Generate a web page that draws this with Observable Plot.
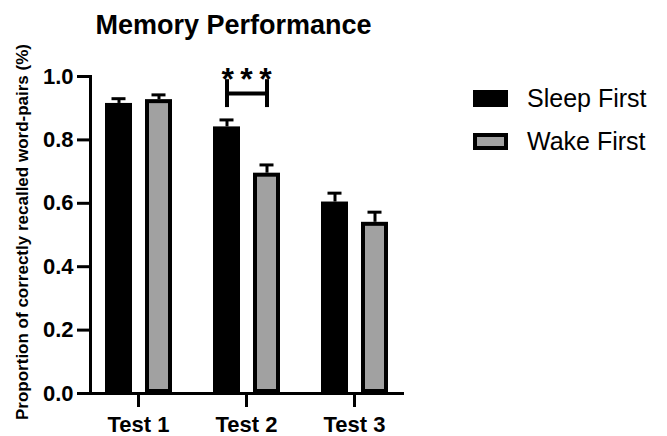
<!DOCTYPE html>
<html><head><meta charset="utf-8">
<script src="https://cdn.jsdelivr.net/npm/d3@7"></script>
<script src="https://cdn.jsdelivr.net/npm/@observablehq/plot@0.6"></script>
<style>
body{margin:0;background:#fff;}
#wrap{position:relative;width:667px;height:436px;font-family:Arial,"Liberation Sans",sans-serif;color:#000;overflow:hidden;}
#wrap svg{position:absolute;left:0;top:0;}
.title{position:absolute;top:12px;left:233.5px;transform:translateX(-50%);font-size:27px;font-weight:bold;line-height:1;white-space:nowrap;}
.ylab{position:absolute;left:22px;top:231.5px;transform:translate(-50%,-50%) rotate(-90deg);font-size:17px;font-weight:bold;line-height:1;white-space:nowrap;}
.leg{position:absolute;left:473px;display:flex;align-items:center;height:17px;}
.sw{width:35px;height:17px;box-sizing:border-box;}
.lt{margin-left:19px;font-size:25px;line-height:1;white-space:nowrap;}
</style></head><body><div id="wrap"></div>
<script>
const titleText = "Memory Performance";
const yLabel = "Proportion of correctly recalled word-pairs (%)";
const tests = ["Test 1", "Test 2", "Test 3"];
const conditions = ["Sleep First", "Wake First"];
const sleepMeans = [0.915, 0.841, 0.604];
const wakeMeans = [0.927, 0.695, 0.540];
const sleepErr = [0.015, 0.022, 0.028];
const wakeErr = [0.015, 0.026, 0.032];
const yTicks = [0, 0.2, 0.4, 0.6, 0.8, 1.0];
const colors = ["#000000", "#a1a1a1"];
// significance bracket
const sigTests = ["Test 2"];
const sigFrom = ["Sleep First"];
const sigTo = ["Wake First"];
const sigBar = [0.946];
const sigLow = [0.902];
const sigHigh = [0.99];
const sigText = ["*\u2009*\u2009*"];
const sigTextY = [0.99];

const rows = tests.flatMap((t, i) => [
  {test: t, condition: conditions[0], mean: sleepMeans[i], err: sleepErr[i]},
  {test: t, condition: conditions[1], mean: wakeMeans[i], err: wakeErr[i]}
]);
const sig = sigTests.map((t, i) => ({test: t, from: sigFrom[i], to: sigTo[i], y: sigBar[i], low: sigLow[i], high: sigHigh[i], label: sigText[i], ty: sigTextY[i]}));
const sigEnds = sig.flatMap(s => [{test: s.test, cond: s.from, low: s.low, high: s.high}, {test: s.test, cond: s.to, low: s.low, high: s.high}]);

const chart = Plot.plot({
  width: 667, height: 436,
  marginLeft: 90, marginRight: 262, marginTop: 76, marginBottom: 43,
  style: {fontFamily: 'Arial, "Liberation Sans", sans-serif', background: "transparent", overflow: "visible", color: "#000"},
  fx: {domain: tests, range: [90, 402], paddingInner: 1/9, paddingOuter: 0, label: null},
  x: {domain: conditions, range: [105, 172], paddingInner: 0.325, paddingOuter: 0, axis: null},
  y: {domain: [0, 1], label: null},
  color: {domain: conditions, range: colors},
  marks: [
    Plot.barY(rows, {fx: "test", x: "condition", y: "mean", fill: "condition", stroke: "#000", strokeWidth: 4, inset: 2}),
    Plot.ruleX(rows, {fx: "test", x: "condition", y1: "mean", y2: d => d.mean + d.err, stroke: "#000", strokeWidth: 3}),
    Plot.tickY(rows, {fx: "test", x: "condition", y: d => d.mean + d.err, stroke: "#000", strokeWidth: 3, insetLeft: 6.5, insetRight: 6.5}),
    Plot.link(sig, {fx: "test", x1: "from", x2: "to", y1: "y", y2: "y", stroke: "#000", strokeWidth: 4}),
    Plot.ruleX(sigEnds, {fx: "test", x: "cond", y1: "low", y2: "high", stroke: "#000", strokeWidth: 4}),
    Plot.text(sig, {fx: "test", y: "ty", text: "label", fontSize: 32, fontWeight: "bold", lineAnchor: "middle", fill: "#000"}),
    Plot.axisY({ticks: yTicks, tickFormat: d3.format(".1f"), tickSize: 13, tickPadding: 4, strokeWidth: 3, fontSize: 22, fontWeight: "bold", label: null}),
    Plot.axisFx({anchor: "bottom", tickSize: 14, tickPadding: 9, strokeWidth: 3, fontSize: 22, fontWeight: "bold", label: null}),
    Plot.frame({anchor: "left", facet: "super", strokeWidth: 3, stroke: "#000"}),
    Plot.frame({anchor: "bottom", facet: "super", strokeWidth: 3, stroke: "#000"})
  ]
});

const wrap = document.getElementById("wrap");
wrap.appendChild(chart);
const t = document.createElement("div"); t.className = "title"; t.textContent = titleText; wrap.appendChild(t);
const yl = document.createElement("div"); yl.className = "ylab"; yl.textContent = yLabel; wrap.appendChild(yl);
const legTops = [90, 133];
conditions.forEach((c, i) => {
  const row = document.createElement("div"); row.className = "leg"; row.style.top = legTops[i] + "px";
  const sw = document.createElement("div"); sw.className = "sw"; sw.style.background = colors[i];
  if (i > 0) sw.style.border = "4px solid #000";
  const lt = document.createElement("div"); lt.className = "lt"; lt.textContent = c;
  row.appendChild(sw); row.appendChild(lt); wrap.appendChild(row);
});
</script></body></html>
